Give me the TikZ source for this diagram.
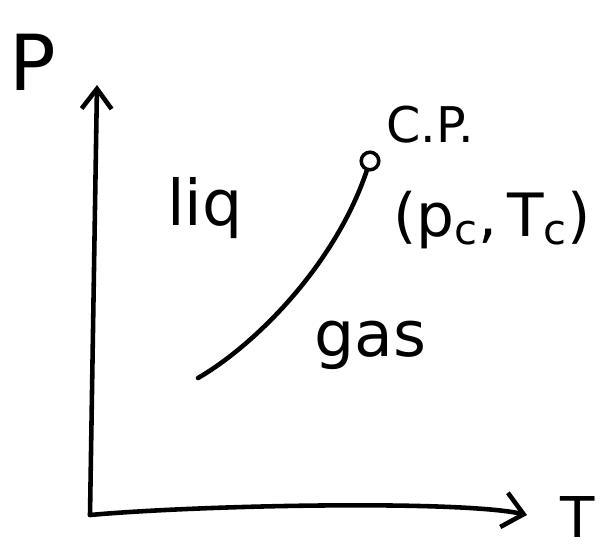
\documentclass[tikz,border=0pt]{standalone}
\usepackage{fontspec}
\setmainfont{DejaVu Sans}
\usetikzlibrary{arrows.meta}

\begin{document}
\begin{tikzpicture}[x=0.02cm,y=-0.02cm,line width=2.6pt,line cap=round,line join=round]
  \useasboundingbox (0,0) rectangle (613,552);
  % axes
  \coordinate (O) at (90,515);
  \coordinate (ptop) at (97,85);
  \coordinate (tend) at (527,515);
  \draw[-{Straight Barb[length=4mm,width=6mm]}] (O) -- (ptop);
  \draw[-{Straight Barb[length=4mm,width=7mm]}] (O) .. controls (200,505) and (460,500) .. (tend);
  \node[font=\fontsize{44}{44}\selectfont] (plab) at (33,62) {P};
  \node[font=\fontsize{32}{32}\selectfont,anchor=north,inner sep=0pt] (tlab) at (578,494) {T};
  % coexistence line and critical point
  \coordinate (start) at (198,378);
  \node[circle,draw,line width=2pt,inner sep=0pt,minimum size=10pt] (cp) at (370,161) {};
  \draw (start) .. controls (255,345) and (335,265) .. (cp);
  \node[font=\fontsize{28}{28}\selectfont] (cplab) at (430,125) {C.P.};
  \node[font=\fontsize{34}{34}\selectfont] (cpval) at (492,220) {(p\textsubscript{c},\,T\textsubscript{c})};
  % phases
  \node[font=\fontsize{36}{36}\selectfont] (liq) at (205,208) {liq};
  \node[font=\fontsize{36}{36}\selectfont] (gas) at (370,345) {gas};
\end{tikzpicture}
\end{document}
